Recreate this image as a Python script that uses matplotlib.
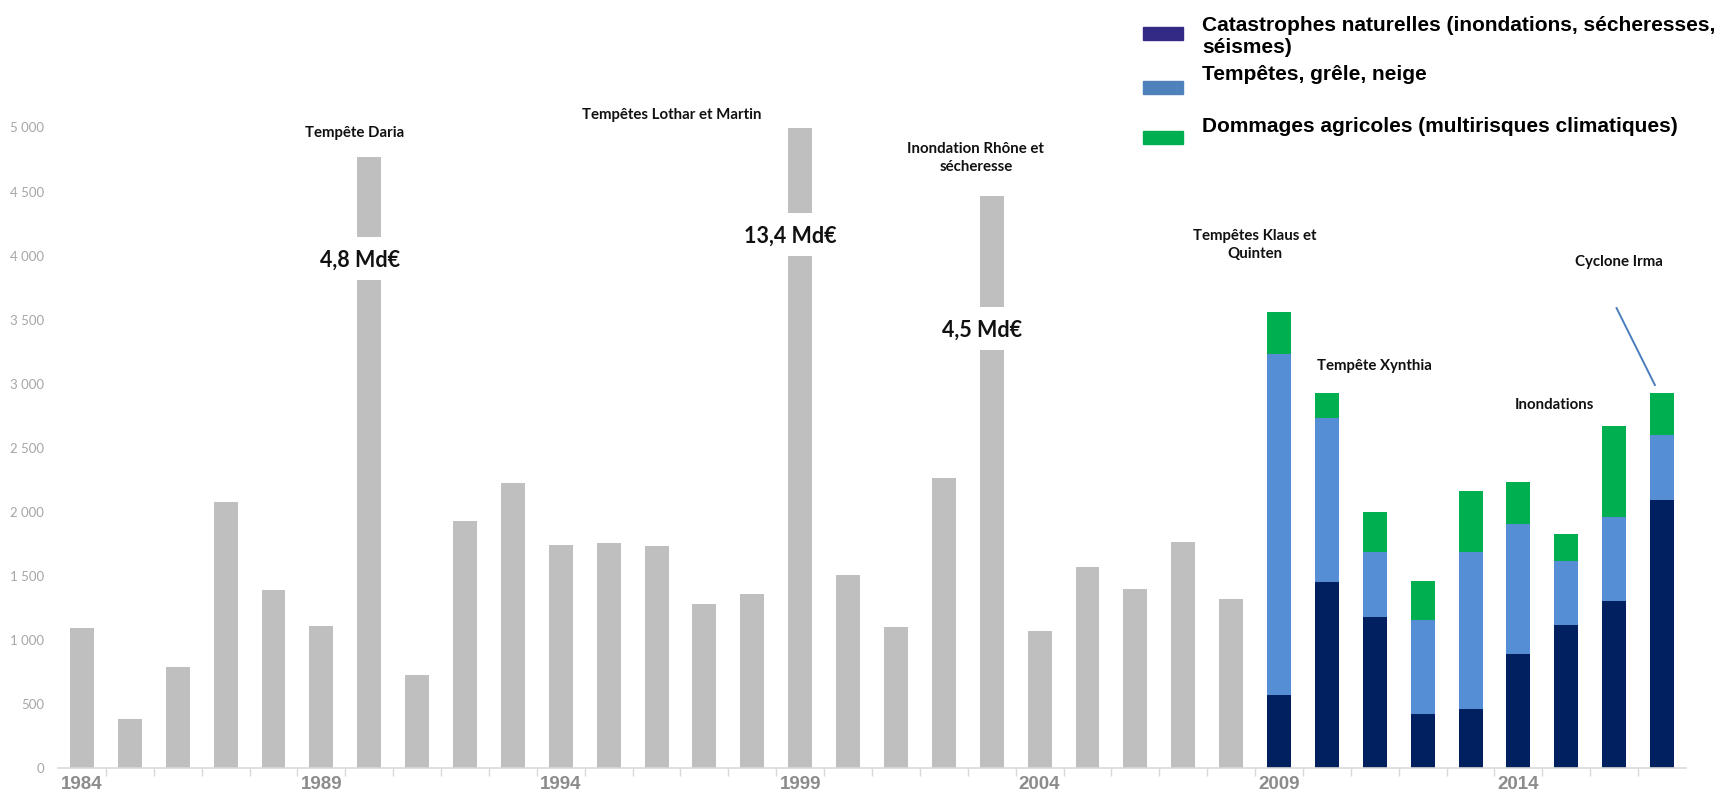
import matplotlib
matplotlib.use("Agg")
import matplotlib.pyplot as plt
from matplotlib.patches import Rectangle
from matplotlib.ticker import FuncFormatter, FixedLocator
import numpy as np

# Coût des événements climatiques (M€), 1984-2017
years = list(range(1984, 2018))

# 1984-2008 : total seul (barres grises); pour 1990, 1999, 2003 hauteur du segment bas
gray_years = list(range(1984, 2009))
gray_values = [1090, 385, 785, 2080, 1390, 1105, 3806, 725, 1928, 2228,
               1740, 1755, 1732, 1282, 1355, 3997, 1505, 1100, 2266, 3262,
               1070, 1572, 1400, 1762, 1320]

# barres coupées : année, bas et haut du segment supérieur, libellé du total réel
break_years = [1990, 1999, 2003]
break_low = [4144, 4334, 3599]
break_high = [4766, 5000, 4464]
break_labels = ["4,8 Md€", "13,4 Md€", "4,5 Md€"]

# 2009-2017 : détail par type de risque
stack_years = list(range(2009, 2018))
cat_nat = [573, 1454, 1180, 423, 460, 892, 1115, 1304, 2091]
tempetes = [2660, 1277, 506, 736, 1226, 1012, 503, 652, 505]
agricoles = [327, 200, 310, 302, 474, 326, 208, 716, 332]

legend_labels = ["Catastrophes naturelles (inondations, sécheresses,\nséismes)",
                 "Tempêtes, grêle, neige",
                 "Dommages agricoles (multirisques climatiques)"]

event_labels = ["Tempête Daria", "Tempêtes Lothar et Martin",
                "Inondation Rhône et\nsécheresse", "Tempêtes Klaus et\nQuinten",
                "Tempête Xynthia", "Inondations", "Cyclone Irma"]

GRAY = "#bfbfbf"
NAVY = "#00205f"
BLUE = "#558ed5"
GREEN = "#00b050"
W, H = 1729, 794
BAR_W = 0.5

fig = plt.figure(figsize=(W / 100, H / 100), dpi=100)
ax = fig.add_axes([58 / W, 1 - 768 / H, 1628 / W, 640.5 / H])

idx = {y: i for i, y in enumerate(years)}
gx = np.array([idx[y] for y in gray_years])
ax.bar(gx, gray_values, width=BAR_W, color=GRAY, zorder=2)
for y, lo, hi in zip(break_years, break_low, break_high):
    ax.bar(idx[y], hi - lo, bottom=lo, width=BAR_W, color=GRAY, zorder=2)

sx = np.array([idx[y] for y in stack_years])
cat_nat = np.array(cat_nat)
tempetes = np.array(tempetes)
agricoles = np.array(agricoles)
ax.bar(sx, cat_nat, width=BAR_W, color=NAVY, zorder=2)
ax.bar(sx, tempetes, bottom=cat_nat, width=BAR_W, color=BLUE, zorder=2)
ax.bar(sx, agricoles, bottom=cat_nat + tempetes, width=BAR_W, color=GREEN, zorder=2)

ax.set_xlim(-0.5, len(years) - 0.5)
ax.set_ylim(0, 5000)

# axes : pas de cadre sauf l'axe des x gris clair
for side in ["top", "right", "left"]:
    ax.spines[side].set_visible(False)
ax.spines["bottom"].set_color("#d9d9d9")
ax.spines["bottom"].set_linewidth(1.2)

ax.set_yticks(np.arange(0, 5001, 500))
ax.yaxis.set_major_formatter(FuncFormatter(lambda v, p: f"{int(v):,}".replace(",", " ")))
ax.tick_params(axis="y", length=0, pad=10, labelcolor="#a6a6a6", labelsize=9.5)
for lbl in ax.get_yticklabels():
    lbl.set_family("Lato")

major = [idx[y] for y in years if (y - 1984) % 5 == 0]
ax.set_xticks(major)
ax.set_xticklabels([str(years[i]) for i in major], fontfamily="Liberation Sans",
                   fontweight="bold", fontsize=13.5, color="#8c8c8c")
ax.tick_params(axis="x", which="major", length=0, pad=6)
ax.xaxis.set_minor_locator(FixedLocator(np.arange(0.5, len(years) - 1, 1.0)))
ax.tick_params(axis="x", which="minor", length=6, width=1, color="#d9d9d9")

# libellés des totaux dans les coupures
for y, lo, txt in zip(break_years, break_low, break_labels):
    ax.text(idx[y] - 0.2, lo - 180, txt, ha="center", va="center", fontsize=15.5,
            fontweight="bold", family="Lato", color="#111111")

# événements marquants
event_pos = [(5.7, 4957), (12.32, 5095), (18.67, 4762), (24.5, 4083),
             (27.0, 3140), (30.75, 2837), (32.1, 3953)]
for txt, (x, y) in zip(event_labels, event_pos):
    ax.text(x, y, txt, ha="center", va="center", fontsize=10.8, fontweight="bold",
            family="Lato", color="#111111", linespacing=1.4, clip_on=False)

ax.plot([32.05, 32.85], [3590, 2990], color="#4a7ebb", lw=1.4, clip_on=False, zorder=3)

# légende dessinée à la main (haut droite)
leg_colors = ["#332a86", "#4f81bd", GREEN]
patch_y = [33.5, 87.5, 137.5]
text_y = [36.5, 74, 126]
for c, py in zip(leg_colors, patch_y):
    fig.patches.append(Rectangle((1143 / W, 1 - (py + 6.5) / H), 40 / W, 13 / H,
                                 transform=fig.transFigure, color=c))
for txt, ty in zip(legend_labels, text_y):
    fig.text(1202 / W, 1 - ty / H, txt, ha="left", va="center", fontsize=15,
             fontweight="bold", family="Liberation Sans", color="#000000",
             linespacing=1.2)

fig.savefig("out.png", dpi=100)
